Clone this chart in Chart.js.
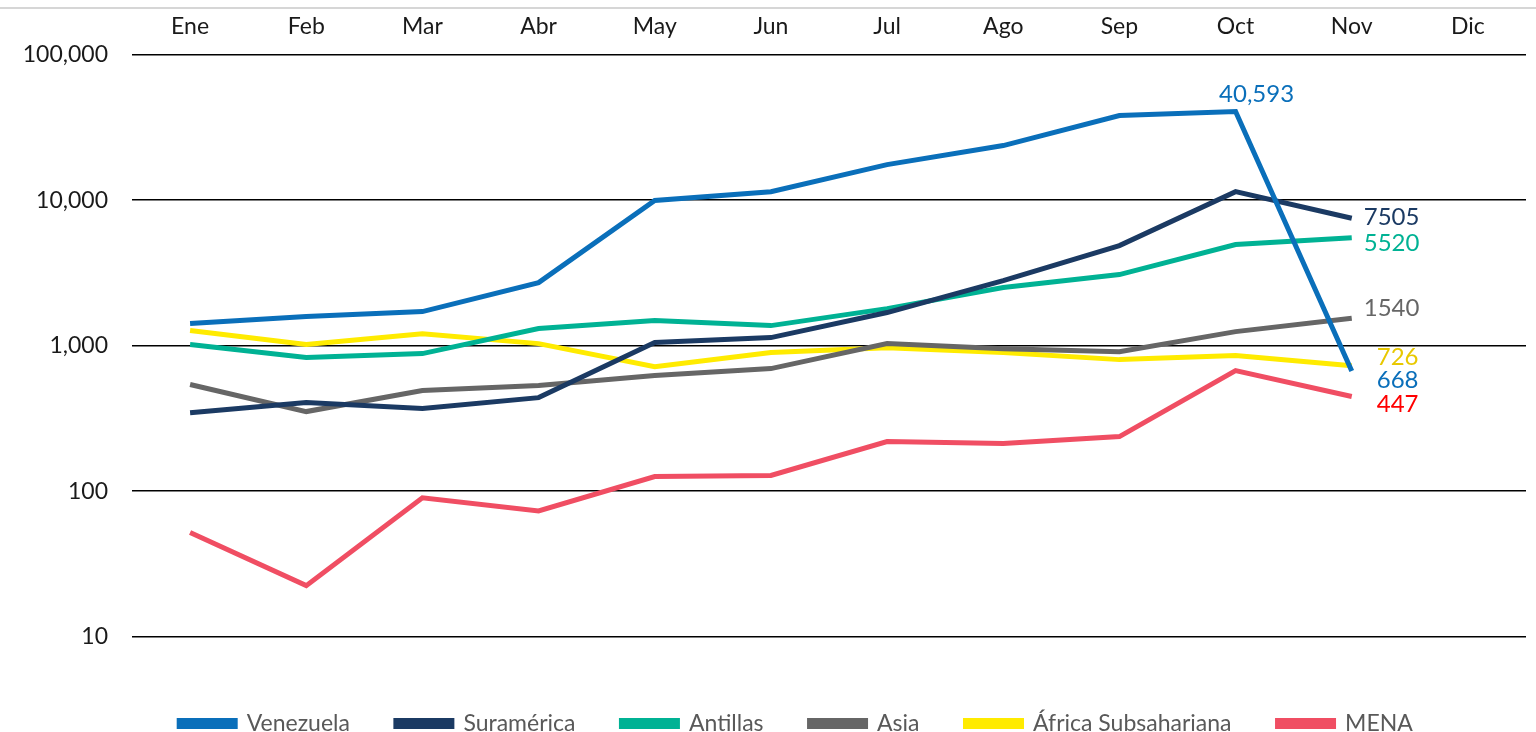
<!DOCTYPE html>
<html>
<head>
<meta charset="utf-8">
<script src="https://cdn.jsdelivr.net/npm/chart.js@4.4.1/dist/chart.umd.min.js"></script>
<style>
    html, body { margin: 0; padding: 0; background: #fff; }
    #wrap { width: 1536px; height: 732px; position: relative; }
</style>
</head>
<body>
<div id="wrap"><canvas id="chart"></canvas></div>
<script>
// Meses (eje superior)
const months = ['Ene', 'Feb', 'Mar', 'Abr', 'May', 'Jun', 'Jul', 'Ago', 'Sep', 'Oct', 'Nov', 'Dic'];

// Valores por región (escala logarítmica)
const venezuela = [1416, 1582, 1713, 2711, 9930, 11430, 17530, 23700, 38100, 40593, 668, null];
const suramerica = [346, 406, 369, 439, 1050, 1135, 1687, 2800, 4866, 11430, 7505, null];
const antillas = [1016, 828, 881, 1309, 1486, 1372, 1795, 2506, 3077, 4946, 5520, null];
const asia = [540, 352, 491, 531, 622, 695, 1032, 953, 909, 1248, 1540, null];
const africa = [1268, 1016, 1208, 1032, 717, 895, 968, 895, 801, 854, 726, null];
const mena = [52, 22.4, 90, 73, 126, 128, 219, 212, 237, 673, 447, null];

const yTicks = [10, 100, 1000, 10000, 100000];

const FONT = 'Lato, "Open Sans", sans-serif';

function series(label, data, color, labelColor, dx, dy) {
    return {
        label: label,
        data: data,
        borderColor: color,
        backgroundColor: color,
        borderWidth: 5,
        pointRadius: 0,
        tension: 0,
        endLabel: { color: labelColor, dx: dx, dy: dy }
    };
}

// Etiquetas de valor al final de cada serie (y el pico de Venezuela)
const valueLabels = {
    id: 'valueLabels',
    afterDatasetsDraw(chart) {
        const ctx = chart.ctx;
        ctx.save();
        ctx.font = '24px ' + FONT;
        ctx.textBaseline = 'middle';
        chart.data.datasets.forEach((ds, i) => {
            const meta = chart.getDatasetMeta(i);
            let last = -1;
            ds.data.forEach((v, j) => { if (v !== null) last = j; });
            const pt = meta.data[last];
            ctx.fillStyle = ds.endLabel.color;
            ctx.textAlign = 'left';
            ctx.fillText(String(ds.data[last]), pt.x + ds.endLabel.dx, pt.y + ds.endLabel.dy);
            if (ds.peakLabel) {
                const j = ds.data.indexOf(Math.max(...ds.data.filter(v => v !== null)));
                const p = meta.data[j];
                ctx.textAlign = 'center';
                ctx.fillText(ds.data[j].toLocaleString('en-US'), p.x + 21, p.y - 17);
            }
        });
        ctx.restore();
    }
};

// Línea gris superior y leyenda centrada sobre el área del gráfico
const topRule = {
    id: 'topRule',
    afterLayout(chart) {
        chart.legend.left = 66;
    },
    beforeDraw(chart) {
        const ctx = chart.ctx;
        ctx.save();
        ctx.strokeStyle = '#c8c8c8';
        ctx.lineWidth = 1.5;
        ctx.beginPath();
        ctx.moveTo(0, 8);
        ctx.lineTo(chart.width, 8);
        ctx.stroke();
        ctx.restore();
    }
};

const datasets = [
    series('Venezuela', venezuela, '#0a6fba', '#0a6fba', 25, 9),
    series('Suramérica', suramerica, '#1b3a63', '#1b3a63', 12, -1),
    series('Antillas', antillas, '#00b294', '#00b294', 12, 6),
    series('Asia', asia, '#666666', '#666666', 12, -10),
    series('África Subsahariana', africa, '#ffeb00', '#e8c800', 25, -9),
    series('MENA', mena, '#f04e63', '#ff0000', 25, 8)
];
datasets[0].peakLabel = true;

new Chart(document.getElementById('chart'), {
    type: 'line',
    data: { labels: months, datasets: datasets },
    options: {
        responsive: true,
        maintainAspectRatio: false,
        animation: false,
        layout: { padding: { top: -1, right: 10, left: 0, bottom: -13 } },
        scales: {
            x: {
                position: 'top',
                offset: true,
                grid: { display: false, drawTicks: false },
                border: { display: false },
                ticks: { color: '#1a1a1a', font: { family: FONT, size: 23 }, padding: 14 }
            },
            y: {
                type: 'logarithmic',
                min: 10,
                max: 100000,
                afterBuildTicks(scale) {
                    scale.ticks = yTicks.map(v => ({ value: v }));
                },
                afterFit(scale) { scale.width = 132; },
                grid: { color: '#000', lineWidth: 1.5, drawTicks: false },
                border: { display: false },
                ticks: {
                    color: '#1a1a1a',
                    font: { family: FONT, size: 23 },
                    padding: 24,
                    callback: v => Number(v).toLocaleString('en-US')
                }
            }
        },
        plugins: {
            legend: {
                position: 'bottom',
                title: { display: true, text: '', padding: { top: 15, bottom: 0 } },
                labels: {
                    boxWidth: 56,
                    boxHeight: 6,
                    color: '#595959',
                    font: { family: FONT, size: 23 },
                    padding: 46
                }
            },
            tooltip: { enabled: false }
        }
    },
    plugins: [valueLabels, topRule]
});
</script>
</body>
</html>
